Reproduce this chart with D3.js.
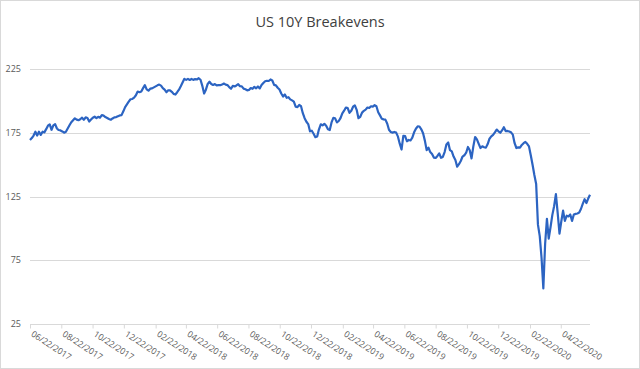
<!DOCTYPE html>
<html><head><meta charset="utf-8">
<script src="https://cdn.jsdelivr.net/npm/d3@7"></script>
<style>html,body{margin:0;padding:0;background:#fff}svg{display:block}</style>
</head><body><svg id="chart" width="640" height="369"></svg>
<script>
const chartTitle = "US 10Y Breakevens";
const startDate = "06/22/2017";
const stepHours = 84; // two observations per week
const breakevens = [
169.5,171,173,176,173,176,173.5,176,175.5,178,
180.7,181.8,177.5,181,182,178.5,177.3,177,176.2,175.2,
176,178.5,181,183.4,185,186.5,185.5,185,185.8,187,
185.4,187.3,186.8,184,185.5,187,187.8,186.6,187.7,187,
189,188.6,187.5,186.8,186,185.4,186.4,187.3,187.5,188.2,
188.8,189,192,195.3,197.4,199.6,201.5,201.7,202.8,204.6,
207.5,207,207.6,210.2,212.6,209.2,208.2,209.8,210,210.8,
211.6,212.4,213,212.2,210.2,209,207,208.5,208.5,207.3,
205.7,205.2,207,209,211.7,214.7,217.5,216.7,217.5,216.6,
217.4,216.7,217.3,217,218,216.8,212,206,209,213.5,
215.2,213.5,212.7,213.4,212.4,212.6,212.5,213,213.8,213,
212.6,211,209.7,212,211.5,212.3,213.3,211.7,211.6,209.8,
209.3,208.5,208.8,210.3,209.7,211.2,210.1,211.5,210,212.6,
214.2,215.6,216,215.8,217,216.2,212.8,212.4,210.5,209.1,
206,203.6,205.2,202.6,203.1,201.4,200.6,199.6,195.7,195.3,
197,196,190.5,186.6,183.8,182,176.3,176.8,174.4,171.7,
172.2,177.9,181.8,181,182.2,180.7,177.9,177.3,183.3,186.8,
186.5,183.3,184.4,186.7,190.4,192.5,195,194.5,190.8,192.4,
195.6,196.7,193.2,186.6,187.7,191,192.4,193.3,195,194.6,
196,195.7,196.8,196,191.3,188.8,186.2,185.7,185.5,182.5,
177.5,175.8,175.3,175.8,175.3,172.1,166.6,162,172.8,172.5,
168.5,169.5,169.1,171.3,175.5,178.3,180.2,180.1,177.9,174.8,
169,161.5,163.5,160,158.5,155.7,155.4,157,159,155.5,
156.2,160,166,167.5,161.5,160.5,156.5,153.8,148.5,150.5,
153,156.5,157.5,159.5,164,161.5,155,164.5,171.8,170,
166.5,163.2,164.5,163.8,163.5,166.3,170.5,172.3,173.5,175.5,
177.7,176.3,175.2,177,179.5,176.5,176.6,176.2,175.5,173.7,
167,163.2,163.7,163.5,165.6,167,168,166.5,164.5,157.5,
150,142,135,103,94,77,53,88,107.5,92,
101,110.5,117.5,127,112,96,105.5,114,106,110,
109.5,111,106,111,111.5,111.8,112.5,115.5,119.5,123,
120,123.5,126.5
];
const yTickValues = [25, 75, 125, 175, 225];
const xTickLabels = ["06/22/2017","08/22/2017","10/22/2017","12/22/2017","02/22/2018","04/22/2018",
  "06/22/2018","08/22/2018","10/22/2018","12/22/2018","02/22/2019","04/22/2019","06/22/2019",
  "08/22/2019","10/22/2019","12/22/2019","02/22/2020","04/22/2020"];

const parse = d3.timeParse("%m/%d/%Y");
const fmt = d3.timeFormat("%m/%d/%Y");
const start = parse(startDate);
const data = breakevens.map((v, i) => ({date: d3.timeHour.offset(start, stepHours * i), value: v}));

const svg = d3.select("#chart");
const W = 640, H = 369;
const plotLeft = 30, plotRight = 590, plotTop = 69.3, plotBottom = 324;

svg.append("rect").attr("x", 0.5).attr("y", 0.5).attr("width", W - 1).attr("height", H - 1)
  .attr("fill", "#fff").attr("stroke", "#D9D9D9");

const x = d3.scaleTime().domain(d3.extent(data, d => d.date)).range([plotLeft, plotRight]);
const y = d3.scaleLinear().domain([25, 225]).range([plotBottom, plotTop]);

const font = "'Open Sans', 'Noto Sans', sans-serif";

// gridlines
svg.append("g").selectAll("line").data(yTickValues.filter(v => v !== 25)).join("line")
  .attr("x1", plotLeft).attr("x2", plotRight)
  .attr("y1", d => Math.round(y(d)) + 0.5).attr("y2", d => Math.round(y(d)) + 0.5)
  .attr("stroke", "#D9D9D9").attr("stroke-width", 1);

// y labels
svg.append("g").selectAll("text").data(yTickValues).join("text")
  .attr("x", 21).attr("y", d => y(d)).attr("dy", "0.35em")
  .attr("text-anchor", "end").attr("font-family", font).attr("font-size", 9)
  .attr("fill", "#595959").text(d => d);

// x axis
const xTickDates = xTickLabels.map(parse);
const xAxis = d3.axisBottom(x).tickValues(xTickDates).tickSize(4).tickFormat(d => fmt(d));
const gx = svg.append("g").attr("transform", `translate(0,${Math.round(plotBottom) + 0.5})`).call(xAxis);
gx.select(".domain").attr("stroke", "#D9D9D9").attr("d", `M${plotLeft},0H${plotRight}`);
gx.selectAll(".tick line").attr("stroke", "#D9D9D9");
gx.selectAll(".tick text")
  .attr("font-family", font).attr("font-size", 8.6).attr("fill", "#595959")
  .attr("text-anchor", "start").attr("y", 0).attr("dy", 0)
  .attr("transform", "translate(0,11) rotate(33)");

// line
svg.append("path").datum(data)
  .attr("fill", "none").attr("stroke", "#2C64C2").attr("stroke-width", 2.2)
  .attr("stroke-linejoin", "round")
  .attr("d", d3.line().x(d => x(d.date)).y(d => y(d.value)));

// title
svg.append("text").attr("x", 320).attr("y", 27).attr("text-anchor", "middle")
  .attr("font-family", font).attr("font-size", 14.5).attr("fill", "#404040")
  .text(chartTitle);
</script></body></html>
